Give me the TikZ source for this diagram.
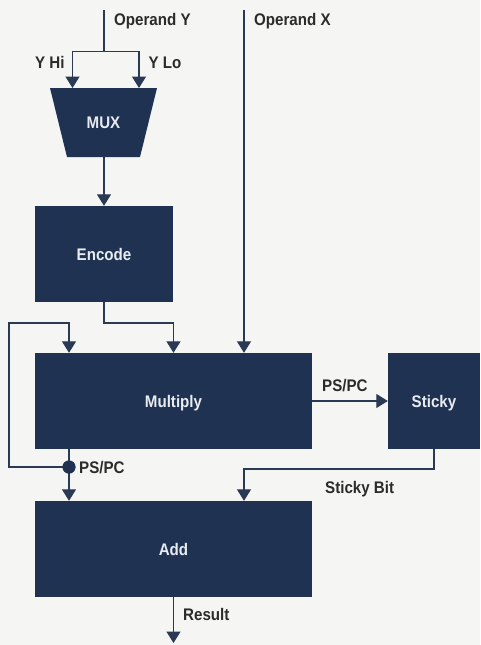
\documentclass[tikz,border=0pt]{standalone}
\usepackage{fontspec}
\setmainfont{Liberation Sans}[FakeStretch=0.9]
\usetikzlibrary{arrows.meta}
\definecolor{navy}{HTML}{1F3252}
\definecolor{wirec}{HTML}{2A3A55}
\definecolor{bg}{HTML}{F5F6F3}
\definecolor{ink}{HTML}{2B2B2B}
\definecolor{boxtext}{HTML}{E8ECEF}
\begin{document}
\begin{tikzpicture}[x=1pt,y=-1pt,
  font=\bfseries\fontsize{16.8}{19}\selectfont,
  blk/.style={fill=navy, draw=none, text=boxtext, inner sep=0pt,
    text height=12pt, text depth=0pt, minimum height=96pt},
  lbl/.style={text=ink, inner sep=0pt, anchor=base west},
  wire/.style={draw=wirec, line width=1.3pt},
  arr/.style={wire, -{Triangle[width=14pt,length=11.5pt]}}]
\fill[bg] (0,0) rectangle (480,645);
\useasboundingbox (0,0) rectangle (480,645);

% MUX
\fill[navy] (50,88) -- (157,88) -- (140,157) -- (67,157) -- cycle;
\node[blk, minimum height=0pt] (mux) at (103.5,122) {MUX};
\coordinate (muxinL) at (72.5,88);
\coordinate (muxinR) at (139,88);
\coordinate (muxout) at (104,157);

% boxes
\node[blk, minimum width=138pt] (enc) at (104,254) {Encode};
\node[blk, minimum width=277pt] (mul) at (173.5,401) {Multiply};
\node[blk, minimum width=92pt] (st) at (434,401) {Sticky};
\node[blk, minimum width=277pt] (add) at (173.5,549) {Add};

% coordinates
\coordinate (oy) at (104,10);
\coordinate (ysplit) at (104,51.5);
\coordinate (ox) at (244,10);
\coordinate (lt) at (9,323);
\coordinate (sbk) at (244,469);
\coordinate (res) at (173.5,643);
\node[circle, fill=navy, minimum size=13pt, inner sep=0pt] (dot) at (69,467) {};

% connectors
\draw[wire] (oy) -- (ysplit);
\draw[arr] (ysplit) -| (muxinL);
\draw[arr] (ysplit) -| (muxinR);
\draw[arr] (muxout) -- (enc.north);
\draw[arr] (ox) -- (ox |- mul.north);
\draw[arr] (enc.south) -- (enc.south |- lt) -| (mul.north);
\draw[arr] (dot.center) -- (dot.center -| lt) -- (lt) -| (dot.center |- mul.north);
\draw[wire] (dot.center |- mul.south) -- (dot.center);
\draw[arr] (dot.center) -- (dot.center |- add.north);
\draw[arr] (mul.east) -- (st.west);
\draw[arr] (st.south) |- (sbk) -- (sbk |- add.north);
\draw[arr] (add.south) -- (res);
\node[circle, fill=navy, minimum size=13pt, inner sep=0pt] at (dot) {};

% labels
\node[lbl] at (114,25) {Operand Y};
\node[lbl] at (254,25) {Operand X};
\node[lbl] at (35,68) {Y Hi};
\node[lbl] at (148.5,68) {Y Lo};
\node[lbl] at (322,391) {PS/PC};
\node[lbl] at (79,473) {PS/PC};
\node[lbl] at (325,493) {Sticky Bit};
\node[lbl] at (183,620) {Result};
\end{tikzpicture}
\end{document}
